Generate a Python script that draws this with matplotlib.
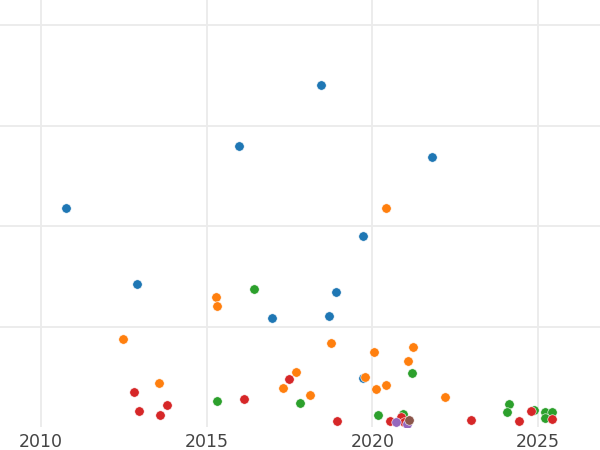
import matplotlib
matplotlib.use("Agg")
import matplotlib.pyplot as plt

# Values (x = year, y = value in grid units)
blue_x = [2010.76, 2012.90, 2015.98, 2016.98, 2018.46, 2018.70, 2018.91, 2019.73, 2021.81, 2019.73]
blue_y = [2.18, 1.42, 2.80, 1.08, 3.40, 1.10, 1.34, 1.90, 2.69, 0.49]

orange_x = [2012.48, 2013.56, 2015.29, 2015.32, 2017.31, 2017.70, 2018.13, 2018.76,
            2019.79, 2020.06, 2020.12, 2020.42, 2020.42, 2021.06, 2021.24, 2022.18]
orange_y = [0.88, 0.44, 1.29, 1.20, 0.39, 0.55, 0.32, 0.84,
            0.50, 0.75, 0.38, 2.18, 0.42, 0.66, 0.80, 0.30]

green_x = [2016.44, 2015.30, 2017.82, 2021.20, 2020.16, 2020.92, 2024.11, 2024.06,
           2024.87, 2025.20, 2025.43, 2025.21]
green_y = [1.37, 0.26, 0.24, 0.54, 0.12, 0.13, 0.23, 0.15,
           0.17, 0.15, 0.15, 0.09]

red_x = [2012.79, 2012.97, 2013.60, 2013.81, 2016.12, 2017.47, 2018.93, 2020.52,
         2020.87, 2020.95, 2022.98, 2024.43, 2024.80, 2025.43]
red_y = [0.35, 0.16, 0.12, 0.22, 0.28, 0.48, 0.06, 0.06,
         0.10, 0.05, 0.07, 0.06, 0.16, 0.08]

purple_x = [2020.72, 2021.05]
purple_y = [0.05, 0.03]

brown_x = [2021.11]
brown_y = [0.07]

xticks = [2010, 2015, 2020, 2025]

fig = plt.figure(figsize=(6, 4.5), dpi=100)
ax = fig.add_axes([0, 23 / 450, 1, 427 / 450])

series = [
    (blue_x, blue_y, "#1f77b4"),
    (orange_x, orange_y, "#ff7f0e"),
    (green_x, green_y, "#2ca02c"),
    (red_x, red_y, "#d62728"),
    (purple_x, purple_y, "#9467bd"),
    (brown_x, brown_y, "#8c564b"),
]
for xs, ys, c in series:
    ax.scatter(xs, ys, s=46, color=c, edgecolor="white", linewidth=0.4, zorder=3)

ax.set_xlim(2008.76, 2026.87)
ax.set_ylim(0, 4.25)
ax.set_xticks(xticks)
ax.set_xticklabels([str(t) for t in xticks])
ax.set_yticks([1, 2, 3, 4])
ax.set_yticklabels([])

ax.grid(True, color="#ebebeb", linewidth=1.3, zorder=0)
ax.set_axisbelow(True)
for sp in ax.spines.values():
    sp.set_visible(False)
ax.tick_params(length=0, pad=4, labelsize=12.5, labelcolor="#444444")

fig.savefig("out.png", dpi=100)
